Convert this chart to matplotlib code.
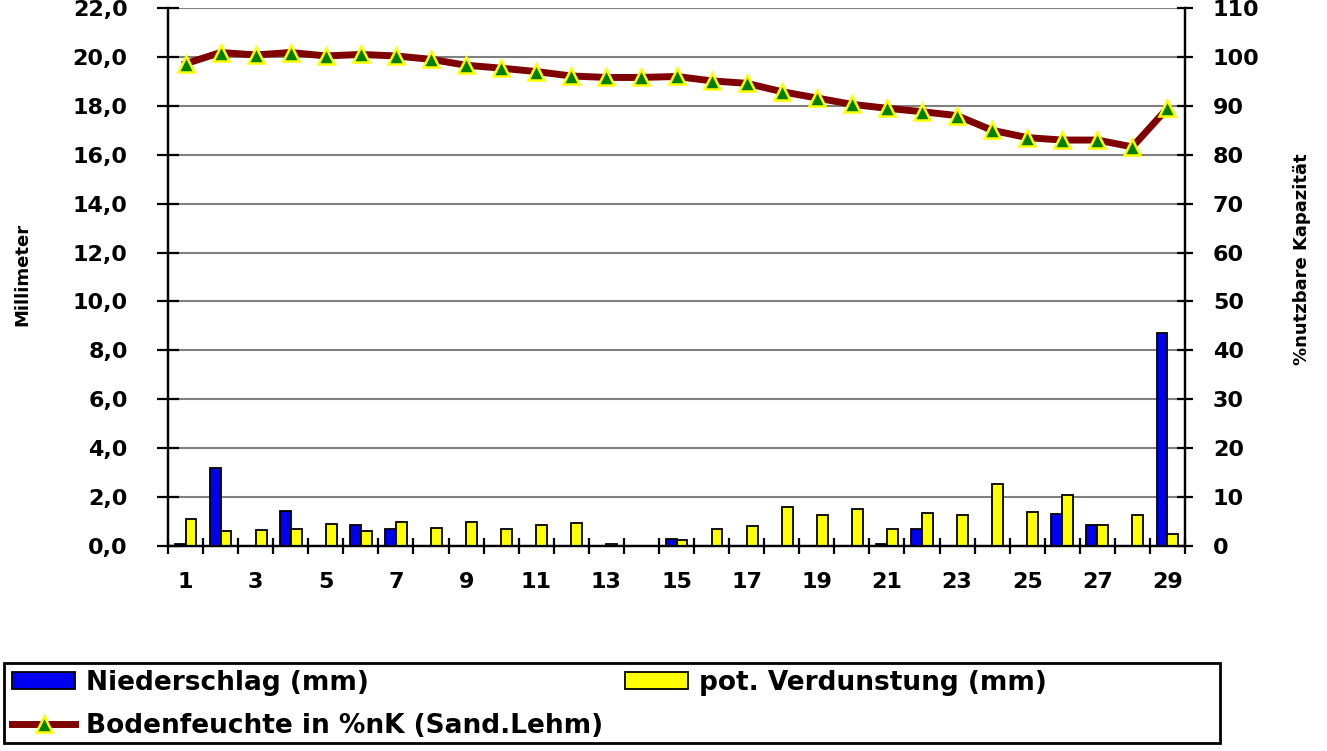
import matplotlib

matplotlib.use("Agg")

import matplotlib.pyplot as plt
import numpy as np
from matplotlib.lines import Line2D
from matplotlib.patches import Patch, Rectangle

# data
days = list(range(1, 30))
niederschlag = [0.1, 3.2, 0, 1.45, 0, 0.85, 0.7, 0, 0, 0, 0, 0, 0, 0, 0.3,
                0, 0, 0, 0, 0, 0.1, 0.7, 0, 0, 0, 1.3, 0.85, 0, 8.7]
verdunstung = [1.1, 0.6, 0.65, 0.7, 0.9, 0.6, 1.0, 0.75, 1.0, 0.7, 0.85, 0.95, 0.1, 0, 0.25,
               0.7, 0.8, 1.6, 1.25, 1.5, 0.7, 1.35, 1.25, 2.55, 1.4, 2.1, 0.85, 1.25, 0.5]
bodenfeuchte = [98.6, 100.9, 100.4, 100.9, 100.2, 100.5, 100.2, 99.5, 98.3, 97.7, 97.0, 96.1,
                95.8, 95.8, 96.0, 95.1, 94.6, 92.9, 91.6, 90.3, 89.5, 88.8, 88.0, 85.0, 83.5,
                83.0, 83.0, 81.6, 89.5]
mm_ticks = [0, 2, 4, 6, 8, 10, 12, 14, 16, 18, 20, 22]
pct_ticks = [0, 10, 20, 30, 40, 50, 60, 70, 80, 90, 100, 110]

plt.rcParams["font.family"] = "DejaVu Sans"
plt.rcParams["font.weight"] = "bold"

W, H = 1327, 751
fig = plt.figure(figsize=(W / 100, H / 100), dpi=100)
ax = fig.add_axes([168 / W, 1 - 546 / H, (1185 - 168) / W, (546 - 8) / H])
ax2 = ax.twinx()

x = np.array(days)
bw = 0.31
ax.bar(x - bw / 2, niederschlag, width=bw, color="#0000F0", edgecolor="black", linewidth=1.3, zorder=3)
ax.bar(x + bw / 2, verdunstung, width=bw, color="#FFFF00", edgecolor="black", linewidth=1.3, zorder=3)

ax2.plot(x, bodenfeuchte, color="#800000", linewidth=5, marker="^", markersize=12,
         markerfacecolor="#008000", markeredgecolor="#FFFF00", markeredgewidth=1.8, zorder=4)

ax.set_xlim(0.5, 29.5)
ax.set_ylim(0, 22)
ax2.set_ylim(0, 110)

ax.set_yticks(mm_ticks)
ax.set_yticklabels([f"{v:.1f}".replace(".", ",") for v in mm_ticks])
ax2.set_yticks(pct_ticks)
ax2.set_yticklabels([str(v) for v in pct_ticks])

ax.set_xticks(days[::2])
ax.set_xticklabels([str(d) for d in days[::2]])
ax.set_xticks(np.arange(0.5, 30, 1), minor=True)

ax.grid(axis="y", color="#808080", linewidth=1.5, zorder=0)
ax.set_axisbelow(True)

for a in (ax, ax2):
    for s in a.spines.values():
        s.set_linewidth(1.6)
    a.spines["top"].set_visible(False)

ax.tick_params(axis="y", direction="inout", length=16, width=1.6, pad=21, labelsize=16)
ax.tick_params(axis="x", which="major", length=0, pad=19, labelsize=16)
ax.tick_params(axis="x", which="minor", direction="inout", length=11, width=1.6)
ax2.tick_params(axis="y", direction="inout", length=12, width=1.6, pad=14, labelsize=16)

fig.text(22 / W, 1 - 274 / H, "Millimeter", rotation=90, ha="center", va="center", fontsize=13)
fig.text(1302 / W, 1 - 259 / H, "%nutzbare Kapazität", rotation=90, ha="center", va="center", fontsize=13)

# legend frame and entries
fig.patches.append(Rectangle((4 / W, 1 - 743 / H), 1216 / W, 80 / H, transform=fig.transFigure,
                             facecolor="white", edgecolor="black", linewidth=2, zorder=0))

h_n = Patch(facecolor="#0000F0", edgecolor="black", linewidth=1.3)
h_v = Patch(facecolor="#FFFF00", edgecolor="black", linewidth=1.3)
h_b = Line2D([], [], color="#800000", linewidth=5, marker="^", markersize=12,
             markerfacecolor="#008000", markeredgecolor="#FFFF00", markeredgewidth=1.8)

leg_kw = dict(loc="upper left", frameon=False, fontsize=19, borderpad=0, borderaxespad=0,
              handlelength=2.4, handletextpad=0.4, labelspacing=0.65, handleheight=0.6)
fig.legend([h_n, h_b], ["Niederschlag (mm)", "Bodenfeuchte in %nK (Sand.Lehm)"],
           bbox_to_anchor=(12 / W, 1 - 670 / H), **leg_kw)
fig.legend([h_v], ["pot. Verdunstung (mm)"], bbox_to_anchor=(625 / W, 1 - 670 / H), **leg_kw)

fig.savefig("out.png", dpi=100)
plt.close(fig)
